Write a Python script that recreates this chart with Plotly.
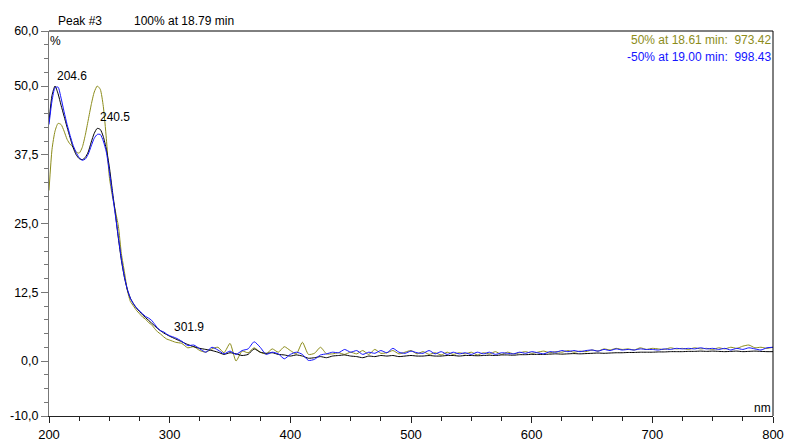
import plotly.graph_objects as go

# Wavelength grid (nm): fine steps across the absorption bands, coarser over the baseline
wavelength = [200 + 2.5 * i for i in range(41)] + [305 + 5 * i for i in range(100)]

# Peak #3 apex spectrum (100% at 18.79 min)
apex = [
    43.5, 48.3, 50.0, 48.6, 46.5, 44.5, 42.5, 40.6, 38.8, 37.5,
    36.8, 36.6, 37.0, 38.0, 39.8, 41.4, 42.3, 42.1, 40.8, 38.5,
    35.3, 31.0, 26.8, 22.3, 18.3, 15.2, 12.9, 11.4, 10.4, 9.6,
    9.0, 8.4, 7.9, 7.4, 6.9, 6.4, 5.9, 5.5, 5.1, 4.8, 4.5,
    4.0, 3.5, 3.0, 2.6, 2.3, 2.1, 1.9, 1.6, 1.2, 1.5,
    1.3, 1.0, 1.2, 2.2, 1.6, 1.4, 1.5, 1.2, 1.1, 0.9,
    1.1, 0.9, 0.5, 0.6, 0.8, 0.6, 0.9, 1.0, 1.1, 0.9,
    0.8, 0.6, 0.9, 0.8, 1.0, 0.9, 1.0, 0.8, 0.9, 1.0,
    0.9, 0.9, 1.0, 0.9, 0.9, 1.0, 1.0, 0.9, 1.0, 1.0,
    0.95, 1.0, 1.05, 1.0, 1.1, 1.1, 1.05, 1.15, 1.15, 1.2,
    1.2, 1.2, 1.25, 1.3, 1.25, 1.3, 1.35, 1.3, 1.35, 1.4,
    1.45, 1.4, 1.45, 1.5, 1.5, 1.55, 1.55, 1.6, 1.6, 1.6,
    1.65, 1.65, 1.7, 1.7, 1.7, 1.75, 1.75, 1.8, 1.75, 1.8,
    1.75, 1.7, 1.75, 1.8, 1.7, 1.75, 1.8, 1.75, 1.7, 1.7,
]

# Up-slope spectrum (50% at 18.61 min)
upslope = [
    31.0, 38.5, 41.8, 43.2, 43.0, 41.8, 40.3, 39.4, 38.9, 38.0,
    37.8, 38.8, 41.0, 43.8, 46.6, 48.9, 50.0, 49.4, 46.3, 40.5,
    33.5, 30.0, 27.3, 24.5, 19.5, 16.2, 12.8, 10.8, 10.0, 9.2,
    8.6, 8.0, 7.6, 7.0, 6.6, 5.9, 5.3, 4.9, 4.4, 4.0, 3.8,
    3.4, 3.2, 2.4, 2.6, 1.9, 1.6, 2.2, 2.5, 1.5, 3.2,
    0.0, 1.8, 1.5, 2.4, 1.6, 1.3, 2.2, 1.6, 2.6, 1.9,
    1.3, 3.4, 1.2, 1.4, 2.5, 1.3, 1.3, 1.5, 1.2, 1.6,
    1.3, 1.9, 1.2, 2.1, 1.4, 1.5, 1.9, 1.3, 1.6, 1.9,
    1.3, 1.7, 1.2, 1.5, 1.1, 1.6, 1.2, 1.5, 1.3, 1.6,
    1.1, 1.5, 1.3, 1.7, 1.2, 1.6, 1.3, 1.5, 1.7, 1.4,
    1.6, 1.8, 1.5, 1.7, 1.6, 1.9, 1.6, 1.8, 1.7, 2.0,
    1.8, 2.2, 2.0, 2.3, 2.1, 2.2, 2.0, 2.4, 2.1, 2.3,
    2.2, 2.1, 2.4, 2.2, 2.3, 2.1, 2.4, 2.2, 2.3, 2.1,
    2.4, 2.2, 2.5, 2.3, 2.7, 2.9, 2.4, 2.5, 2.3, 2.5,
]

# Down-slope spectrum (-50% at 19.00 min)
downslope = [
    43.0, 47.3, 49.7, 49.8, 47.8, 45.3, 43.0, 41.0, 39.2, 37.9,
    37.0, 36.5, 36.7, 37.6, 39.1, 40.5, 41.2, 41.2, 40.0, 38.0,
    34.5, 30.5, 26.5, 22.5, 18.5, 15.3, 13.0, 11.4, 10.4, 9.7,
    9.1, 8.6, 8.1, 7.8, 7.4, 6.7, 6.0, 5.5, 5.3, 4.9, 4.6,
    4.2, 3.6, 2.8, 2.9, 2.2, 1.6, 2.5, 2.0, 1.3, 1.8,
    1.2, 1.9, 2.2, 3.5, 2.5, 1.2, 1.6, 1.3, 0.4, 1.2,
    1.6, 1.2, 0.1, 0.3, 1.1, 1.3, 1.6, 1.5, 2.1, 1.6,
    1.9, 1.2, 1.6, 1.4, 1.9, 1.5, 2.3, 1.6, 1.4, 1.8,
    1.5, 1.4, 1.9, 1.3, 1.7, 1.2, 1.6, 1.3, 1.5, 1.2,
    1.6, 1.3, 1.6, 1.2, 1.5, 1.4, 1.3, 1.6, 1.4, 1.7,
    1.5, 1.3, 1.7, 1.6, 1.9, 1.7, 1.9, 1.7, 1.9, 2.0,
    1.8, 2.1, 1.9, 2.2, 2.0, 2.1, 2.0, 2.2, 2.1, 2.1,
    2.0, 2.2, 2.1, 2.3, 2.2, 2.3, 2.2, 2.4, 2.2, 2.3,
    2.1, 2.3, 2.0, 2.3, 2.1, 2.4, 2.2, 2.0, 2.4, 2.5,
]

# Labelled maxima of the apex spectrum: (wavelength, label height)
peak_labels = [(204.6, 51.8), (240.5, 44.4), (301.9, 6.1)]

y_ticks = [-10, 0, 12.5, 25, 37.5, 50, 60]
y_tick_text = ["-10,0", "0,0", "12,5", "25,0", "37,5", "50,0", "60,0"]
x_ticks = [200, 300, 400, 500, 600, 700, 800]

OLIVE = "#8C8C1A"
BLUE = "#1414FF"
FONT = "Liberation Sans, Arial, sans-serif"

fig = go.Figure()
fig.add_trace(go.Scatter(x=wavelength, y=upslope, mode="lines",
                         line=dict(color=OLIVE, width=1, shape="spline", smoothing=0.6)))
fig.add_trace(go.Scatter(x=wavelength, y=apex, mode="lines",
                         line=dict(color="#000000", width=1, shape="spline", smoothing=0.6)))
fig.add_trace(go.Scatter(x=wavelength, y=downslope, mode="lines",
                         line=dict(color=BLUE, width=1, shape="spline", smoothing=0.6)))

annotations = []
for wl, h in peak_labels:
    annotations.append(dict(x=wl, y=h, xref="x", yref="y", text=f"{wl:.1f}",
                            showarrow=False, xanchor="left", yanchor="middle",
                            font=dict(size=12, color="#000000")))

def header(text, x, y, color="#000000", anchor="left"):
    return dict(x=x, y=y, xref="paper", yref="paper", text=text, showarrow=False,
                xanchor=anchor, yanchor="middle", font=dict(size=12, color=color))

annotations += [
    header("Peak #3", 0.009, 1.026),
    header("100% at 18.79 min", 0.115, 1.026),
    header("%", -0.002, 0.973),
    header("50% at 18.61 min:  973.42", 1.0, 0.977, OLIVE, "right"),
    header("-50% at 19.00 min:  998.43", 1.0, 0.932, BLUE, "right"),
    header("nm", 1.0, 0.020, "#000000", "right"),
]

fig.update_layout(
    template="none",
    width=787, height=443,
    margin=dict(l=49, r=14, t=31, b=27, pad=0),
    paper_bgcolor="#FFFFFF", plot_bgcolor="#FFFFFF",
    showlegend=False,
    font=dict(family=FONT, size=12, color="#000000"),
    annotations=annotations,
    shapes=[
        dict(type="line", xref="paper", yref="paper", x0=0, x1=1, y0=1, y1=1,
             line=dict(color="#000000", width=1)),
        dict(type="line", xref="paper", yref="paper", x0=1, x1=1, y0=0, y1=1,
             line=dict(color="#000000", width=1)),
    ],
)

fig.update_xaxes(
    range=[200, 800], showgrid=False, zeroline=False, automargin=False,
    showline=True, linecolor="#222222", linewidth=1,
    ticks="outside", ticklen=6, tickcolor="#222222",
    tickmode="array", tickvals=x_ticks, ticktext=[str(v) for v in x_ticks],
    tickfont=dict(size=13, family=FONT, color="#000000"),
    minor=dict(ticks="outside", ticklen=4, tickcolor="#222222",
               tickmode="array", tickvals=[225 + 25 * i for i in range(23)]),
)

fig.update_yaxes(
    range=[-10, 60], showgrid=False, zeroline=False, automargin=False,
    showline=True, linecolor="#777777", linewidth=1,
    ticks="outside", ticklen=7, tickcolor="#777777",
    tickmode="array", tickvals=y_ticks, ticktext=y_tick_text,
    tickfont=dict(size=12.5, family=FONT, color="#000000"),
    minor=dict(ticks="outside", ticklen=4, tickcolor="#777777",
               tickmode="array", tickvals=[-10 + 2.5 * i for i in range(29)]),
)

fig.write_html("out.html")
